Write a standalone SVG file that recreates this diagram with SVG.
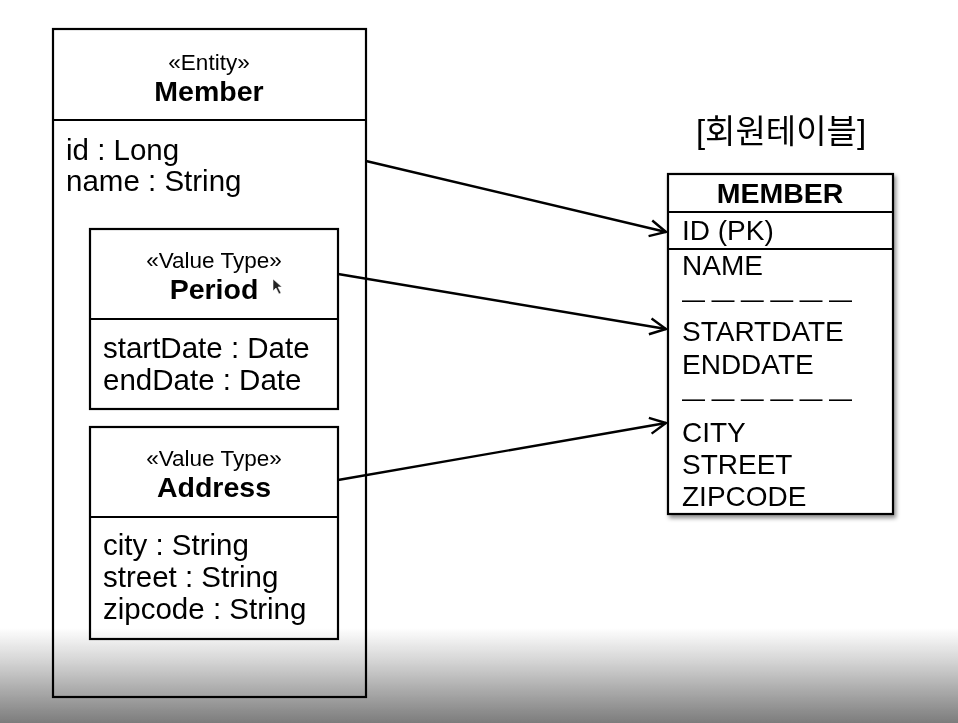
<svg xmlns="http://www.w3.org/2000/svg" width="958" height="723" viewBox="0 0 958 723">
<defs>
<marker id="arr" viewBox="0 0 20 20" refX="18" refY="10" markerWidth="20" markerHeight="20" markerUnits="userSpaceOnUse" orient="auto">
<path d="M2,2 L18,10 L2,18" fill="none" stroke="#000" stroke-width="2.4"/>
</marker>
<linearGradient id="fade" x1="0" y1="0" x2="0" y2="1">
<stop offset="0" stop-color="#ffffff"/>
<stop offset="0.35" stop-color="#d0d0d0"/>
<stop offset="1" stop-color="#6e6e6e"/>
</linearGradient>
<filter id="sh" x="-10%" y="-10%" width="130%" height="130%">
<feDropShadow dx="2" dy="3" stdDeviation="2" flood-color="#000" flood-opacity="0.45"/>
</filter>
</defs>
<style>
.box{fill:#fff;stroke:#000;stroke-width:2.2}
.ln{stroke:#000;stroke-width:2.2}
.t{font-family:"Liberation Sans",Arial,sans-serif;fill:#000}
.st{font-size:22.5px}
.nm{font-size:28.5px;font-weight:bold}
.at{font-size:29.5px}
.col{font-size:28px}
.dash{font-size:23px}
.conn{stroke:#000;stroke-width:2.4;fill:none}
</style>
<rect x="0" y="0" width="958" height="723" fill="#fff"/>
<g id="member">
<rect class="box" x="53" y="29" width="313" height="668"/>
<line class="ln" x1="53" y1="120" x2="366" y2="120"/>
<text class="t st" x="209" y="70" text-anchor="middle">«Entity»</text>
<text class="t nm" x="209" y="101" text-anchor="middle">Member</text>
<text class="t at" x="66" y="160">id : Long</text>
<text class="t at" x="66" y="191">name : String</text>
</g>
<g id="period">
<rect class="box" x="90" y="229" width="248" height="180"/>
<line class="ln" x1="90" y1="319" x2="338" y2="319"/>
<text class="t st" x="214" y="268" text-anchor="middle">«Value Type»</text>
<text class="t nm" x="214" y="299" text-anchor="middle">Period</text>
<text class="t at" x="103" y="358">startDate : Date</text>
<text class="t at" x="103" y="390">endDate : Date</text>
<path d="M273,279 L273,291 L276,288 L279,294 L281,293 L278,287 L282,287 Z" fill="#222" stroke="#fff" stroke-width="0.6"/>
</g>
<g id="address">
<rect class="box" x="90" y="427" width="248" height="212"/>
<line class="ln" x1="90" y1="517" x2="338" y2="517"/>
<text class="t st" x="214" y="466" text-anchor="middle">«Value Type»</text>
<text class="t nm" x="214" y="497" text-anchor="middle">Address</text>
<text class="t at" x="103" y="555">city : String</text>
<text class="t at" x="103" y="587">street : String</text>
<text class="t at" x="103" y="619">zipcode : String</text>
</g>
<g id="table">
<text class="t" x="781" y="143" text-anchor="middle" style="font-size:33px;font-family:'Liberation Sans','Noto Sans CJK KR',sans-serif">[회원테이블]</text>
<rect class="box" x="668" y="174" width="225" height="340" filter="url(#sh)"/>
<line class="ln" x1="668" y1="212" x2="893" y2="212"/>
<line class="ln" x1="668" y1="249" x2="893" y2="249"/>
<text class="t nm" x="780" y="203" text-anchor="middle">MEMBER</text>
<text class="t col" x="682" y="240">ID (PK)</text>
<text class="t col" x="682" y="275">NAME</text>
<text class="t dash" x="682" y="307">— — — — — —</text>
<text class="t col" x="682" y="341">STARTDATE</text>
<text class="t col" x="682" y="374">ENDDATE</text>
<text class="t dash" x="682" y="406">— — — — — —</text>
<text class="t col" x="682" y="442">CITY</text>
<text class="t col" x="682" y="474">STREET</text>
<text class="t col" x="682" y="506">ZIPCODE</text>
</g>
<g id="connectors">
<line class="conn" x1="366" y1="161" x2="666" y2="232" marker-end="url(#arr)"/>
<line class="conn" x1="338" y1="274" x2="666" y2="329" marker-end="url(#arr)"/>
<line class="conn" x1="338" y1="480" x2="666" y2="423" marker-end="url(#arr)"/>
</g>
<rect x="0" y="628" width="958" height="95" fill="url(#fade)" opacity="0.9" style="mix-blend-mode:multiply"/>
</svg>
